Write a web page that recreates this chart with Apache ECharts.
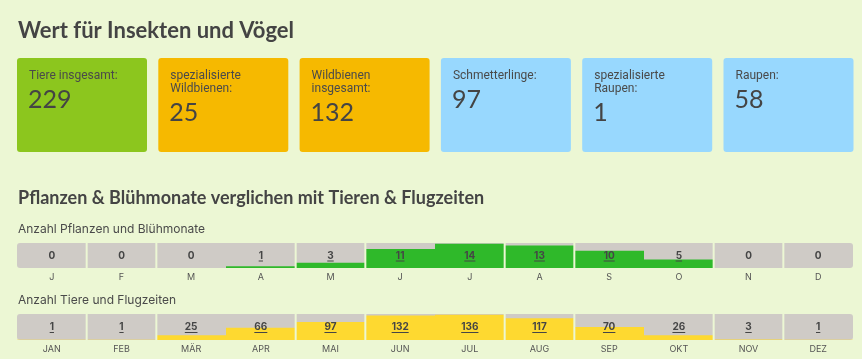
<!DOCTYPE html>
<html><head><meta charset="utf-8">
<script src="https://cdn.jsdelivr.net/npm/echarts@6/dist/echarts.min.js"></script>
<style>html,body{margin:0;padding:0;background:#ecf7d4;}#c{width:862px;height:359px;}</style>
</head><body><div id="c"></div>
<script>
// ---- data ----
const title = 'Wert für Insekten und Vögel';
const subtitle = 'Pflanzen & Blühmonate verglichen mit Tieren & Flugzeiten';
const cardLabels = ['Tiere insgesamt:', 'spezialisierte\nWildbienen:', 'Wildbienen\ninsgesamt:', 'Schmetterlinge:', 'spezialisierte\nRaupen:', 'Raupen:'];
const cardValues = [229, 25, 132, 97, 1, 58];
const row1Title = 'Anzahl Pflanzen und Blühmonate';
const row1Months = ['J','F','M','A','M','J','J','A','S','O','N','D'];
const row1Values = [0, 0, 0, 1, 3, 11, 14, 13, 10, 5, 0, 0];
const row2Title = 'Anzahl Tiere und Flugzeiten';
const row2Months = ['JAN','FEB','MÄR','APR','MAI','JUN','JUL','AUG','SEP','OKT','NOV','DEZ'];
const row2Values = [1, 1, 25, 66, 97, 132, 136, 117, 70, 26, 3, 1];

// ---- style ----
const BG = '#ecf7d4';
const cardColors = ['#8cc61e', '#f6b900', '#f6b900', '#98d8fe', '#98d8fe', '#98d8fe'];
const breaks = [1, 2, 4, 5, 7, 8, 10, 11]; // cells that have a separator on their left edge
const CELL = '#cfcbc6';
const TXT = '#454545';

const chart = echarts.init(document.getElementById('c'), null, {renderer: 'canvas'});
const mctx = document.createElement('canvas').getContext('2d');
const numFont = 'bold 10px Inter';
mctx.font = numFont;

function makeRender(color) {
  return function (params, api) {
    const i = api.value(0), v = api.value(1);
    const cs = params.coordSys;
    const base = api.coord([i, 0]);
    const bw = api.size([1, 0])[0];
    const x0 = base[0] - bw / 2;
    const topY = api.coord([i, v])[1];
    const children = [];
    const r = i === 0 ? [3, 0, 0, 3] : (i === 11 ? [0, 3, 3, 0] : 0);
    children.push({type: 'rect', shape: {x: x0, y: cs.y, width: bw, height: cs.height, r: r}, style: {fill: CELL}});
    if (v > 0) children.push({type: 'rect', shape: {x: x0, y: topY, width: bw, height: base[1] - topY, r: r}, style: {fill: color}});
    const cy = cs.y + cs.height / 2;
    children.push({type: 'text', x: base[0], y: cy, style: {text: String(v), font: numFont, fill: TXT, align: 'center', verticalAlign: 'middle'}});
    if (v > 0) {
      const w = mctx.measureText(String(v)).width;
      children.push({type: 'line', shape: {x1: base[0] - w / 2, y1: cy + 5.5, x2: base[0] + w / 2, y2: cy + 5.5}, style: {stroke: TXT, lineWidth: 1}});
    }
    if (breaks.indexOf(i) >= 0) children.push({type: 'line', shape: {x1: x0, y1: cs.y, x2: x0, y2: cs.y + cs.height}, style: {stroke: BG, lineWidth: 2}});
    return {type: 'group', children: children};
  };
}

const graphics = [
  {type: 'text', x: 18, y: 31, style: {text: title, font: 'bold 22px Lato', fill: '#444', verticalAlign: 'middle'}},
  {type: 'text', x: 18, y: 198, style: {text: subtitle, font: 'bold 18px Lato', fill: '#444', verticalAlign: 'middle'}},
  {type: 'text', x: 18, y: 229, style: {text: row1Title, font: '12px Inter', fill: '#4a4a4a', verticalAlign: 'middle'}},
  {type: 'text', x: 18, y: 300, style: {text: row2Title, font: '12px Inter', fill: '#4a4a4a', verticalAlign: 'middle'}}
];
cardLabels.forEach(function (lab, k) {
  const x = 17 + k * 141.3;
  const twoLine = lab.indexOf('\n') >= 0;
  graphics.push({type: 'rect', shape: {x: x, y: 58, width: 130, height: 94, r: 3}, style: {fill: cardColors[k]}});
  graphics.push({type: 'text', x: x + 12, y: 69, style: {text: lab, font: '12px Roboto', lineHeight: 13, fill: '#4a4a4a', verticalAlign: 'top'}});
  graphics.push({type: 'text', x: x + 11, y: twoLine ? 113 : 100, style: {text: String(cardValues[k]), font: '25px Lato', fill: '#444', verticalAlign: 'middle'}});
});

const option = {
  backgroundColor: BG,
  animation: false,
  graphic: graphics,
  grid: [
    {left: 17, width: 836, top: 243, height: 25},
    {left: 17, width: 836, top: 314, height: 26}
  ],
  xAxis: [
    {type: 'category', gridIndex: 0, data: row1Months, axisLine: {show: false}, axisTick: {show: false},
     axisLabel: {margin: 5, fontSize: 9, fontFamily: 'Inter', color: '#555'}},
    {type: 'category', gridIndex: 1, data: row2Months, axisLine: {show: false}, axisTick: {show: false},
     axisLabel: {margin: 5, fontSize: 9, fontFamily: 'Inter', color: '#555'}}
  ],
  yAxis: [
    {type: 'value', gridIndex: 0, min: 0, max: 14.5, show: false, splitLine: {show: false}},
    {type: 'value', gridIndex: 1, min: 0, max: 140, show: false, splitLine: {show: false}}
  ],
  series: [
    {type: 'custom', xAxisIndex: 0, yAxisIndex: 0, renderItem: makeRender('#2fb92a'),
     data: row1Values.map(function (v, i) { return [i, v]; })},
    {type: 'custom', xAxisIndex: 1, yAxisIndex: 1, renderItem: makeRender('#fed930'),
     data: row2Values.map(function (v, i) { return [i, v]; })}
  ]
};
chart.setOption(option);
</script></body></html>
